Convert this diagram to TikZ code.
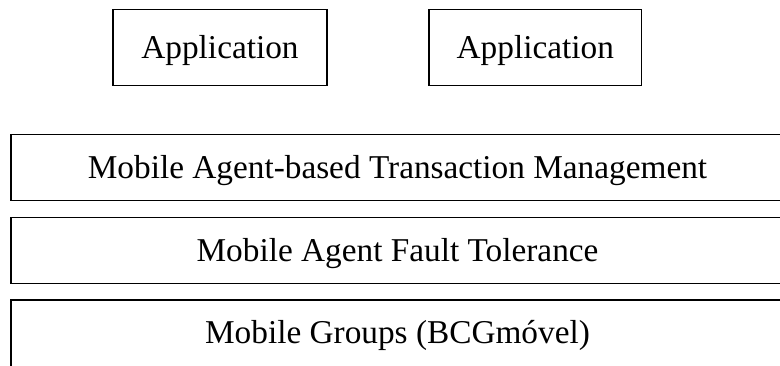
\documentclass[tikz,border=0pt]{standalone}
\usepackage{fontspec}
\setmainfont{Liberation Serif}
\begin{document}
\begin{tikzpicture}[x=1pt,y=-1pt,
  box/.style={draw=black,line width=1.2pt},
  lbl/.style={anchor=base,inner sep=0pt,font=\fontsize{33.3}{36}\selectfont}]
\useasboundingbox (0,0) rectangle (780,365);
\clip (0,0) rectangle (780,365);
\draw[box] (113,9.5) rectangle (327,85.7);
\draw[box] (429,9.5) rectangle (641.7,85.7);
\draw[box] (11,134.3) rectangle (800,200.7);
\draw[box] (11,217.3) rectangle (800,283.3);
\draw[box] (11,300) rectangle (800,400);
\node[lbl] (app1) at (220,58.3) {Application};
\node[lbl] (app2) at (535.3,58.3) {Application};
\node[lbl] (l1) at (397.5,178) {Mobile Agent-based Transaction Management};
\node[lbl] (l2) at (397.5,261) {Mobile Agent Fault Tolerance};
\node[lbl] (l3) at (397.5,343.7) {Mobile Groups (BCGmóvel)};
\end{tikzpicture}
\end{document}
